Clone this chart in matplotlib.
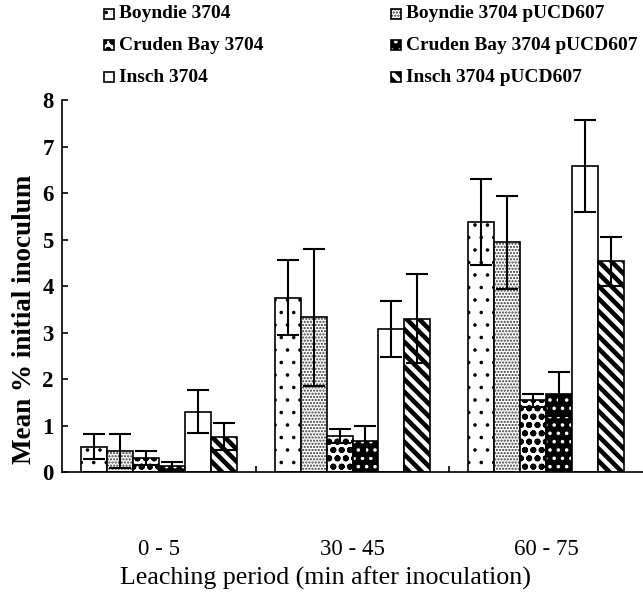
import numpy as np
import matplotlib
matplotlib.use("Agg")
import matplotlib.pyplot as plt
from matplotlib.patches import Rectangle

# leaching periods (x groups)
periods = ["0 - 5", "30 - 45", "60 - 75"]

# mean % initial inoculum and error for each strain
boyndie = [0.54, 3.75, 5.38]
boyndie_err = [0.27, 0.80, 0.92]
boyndie_p = [0.45, 3.33, 4.94]
boyndie_p_err = [0.36, 1.47, 1.00]
cruden = [0.30, 0.78, 1.54]
cruden_err = [0.15, 0.15, 0.14]
cruden_p = [0.12, 0.67, 1.68]
cruden_p_err = [0.09, 0.33, 0.47]
insch = [1.30, 3.07, 6.59]
insch_err = [0.47, 0.60, 0.99]
insch_p = [0.76, 3.30, 4.53]
insch_p_err = [0.29, 0.96, 0.52]

labels = ["Boyndie 3704", "Boyndie 3704 pUCD607",
          "Cruden Bay 3704", "Cruden Bay 3704 pUCD607",
          "Insch 3704", "Insch 3704 pUCD607"]
values = [boyndie, boyndie_p, cruden, cruden_p, insch, insch_p]
errors = [boyndie_err, boyndie_p_err, cruden_err, cruden_p_err, insch_err, insch_p_err]

# (facecolor, hatch, hatch colour, hatch linewidth)
styles = [
    ("white", "..", "black", 0.5),
    ("white", "........", "#333333", 0.7),
    ("white", "ooo", "black", 1.3),
    ("black", "...", "white", 0.9),
    ("white", "", "black", 1.0),
    ("white", "\\\\\\\\", "black", 2.2),
]

DPI = 150
plt.rcParams["font.family"] = ["Liberation Serif", "DejaVu Serif"]

fig = plt.figure(figsize=(643 / DPI, 595 / DPI), dpi=DPI)
ax = fig.add_axes([62 / 643, 123 / 595, 1 - 62 / 643, 372 / 595])

x = np.arange(len(periods))
width = 0.134


def hatched_bar(target, xs, hs, w, style, **kw):
    face, hatch, hcol, hlw = style
    with plt.rc_context({"hatch.linewidth": hlw}):
        bars = target.bar(xs, hs, w, color=face, edgecolor=hcol, hatch=hatch,
                           linewidth=0, **kw)
    for b in bars:
        if hasattr(b, "set_hatch_linewidth"):
            b.set_hatch_linewidth(hlw)
    # outline on top
    target.bar(xs, hs, w, fill=False, edgecolor="black", linewidth=0.8, **kw)
    return bars


for i, (vals, errs) in enumerate(zip(values, errors)):
    pos = x + (i - 2.5) * width
    hatched_bar(ax, pos, vals, width, styles[i], zorder=2)
    ax.errorbar(pos, vals, yerr=errs, fmt="none", ecolor="black",
                elinewidth=1.0, capsize=5.5, capthick=1.0, zorder=3)

ax.set_xlim(-0.5, 2.5)
ax.set_ylim(0, 8)
ax.set_yticks(range(0, 9))
ax.set_yticklabels([str(v) for v in range(0, 9)], fontweight="bold", fontsize=11)
ax.set_xticks(x)
ax.set_xticklabels(periods, fontsize=11)
ax.tick_params(axis="x", length=0, pad=32)
ax.set_xticks([0.5, 1.5], minor=True)
ax.tick_params(axis="x", which="minor", direction="in", length=3, width=0.8)
ax.tick_params(axis="y", direction="in", length=3, width=0.8, pad=4)
for s in ["top", "right"]:
    ax.spines[s].set_visible(False)
ax.spines["left"].set_linewidth(0.8)
ax.spines["bottom"].set_linewidth(0.8)

ax.set_ylabel("Mean % initial inoculum", fontsize=13, fontweight="bold")
ax.yaxis.set_label_coords(-0.043, 0.41)
fig.text(325 / 643, 1 - 578 / 595, "Leaching period (min after inoculation)",
         fontsize=12.5, ha="center", va="center")

# legend drawn as squares + text at the top
row_y = [14, 45, 77]
col_x = [104, 391]
sq = 10
for i, lab in enumerate(labels):
    r, c = i // 2, i % 2
    x0 = col_x[c]
    y0 = 595 - row_y[r]
    face, hatch, hcol, hlw = styles[i]
    with plt.rc_context({"hatch.linewidth": hlw}):
        p = Rectangle((x0 / 643, (y0 - sq / 2) / 595), sq / 643, sq / 595,
                      transform=fig.transFigure, facecolor=face, edgecolor=hcol,
                      hatch=hatch, linewidth=0)
    if hasattr(p, "set_hatch_linewidth"):
        p.set_hatch_linewidth(hlw)
    fig.add_artist(p)
    fig.add_artist(Rectangle((x0 / 643, (y0 - sq / 2) / 595), sq / 643, sq / 595,
                             transform=fig.transFigure, fill=False,
                             edgecolor="black", linewidth=0.8))
    fig.text((x0 + sq + 5) / 643, y0 / 595, lab, fontsize=9.3, fontweight="bold",
             va="center", ha="left")

fig.savefig("out.png", dpi=DPI)
